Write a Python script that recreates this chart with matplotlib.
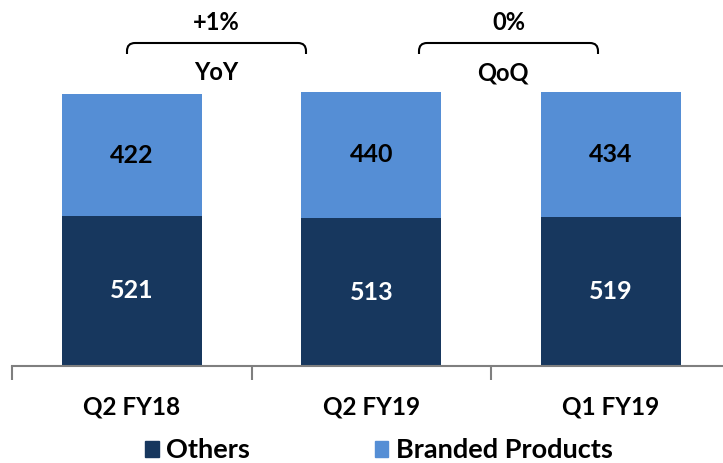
import matplotlib
matplotlib.use("Agg")
import matplotlib.pyplot as plt
from matplotlib.path import Path
from matplotlib.patches import PathPatch, Patch

plt.rcParams['font.family'] = 'Lato'
plt.rcParams['font.weight'] = 'bold'

categories = ["Q2 FY18", "Q2 FY19", "Q1 FY19"]
others = [521, 513, 519]
branded = [422, 440, 434]
series_names = ["Others", "Branded Products"]
comparisons = [("+1%", "YoY"), ("0%", "QoQ")]

c_others = "#17375E"
c_branded = "#558ED5"

W, H = 723, 463
fig = plt.figure(figsize=(W / 100, H / 100), dpi=100)
ax_bottom_px = 366
left_px, cat_px = 12, 239.5
ax = fig.add_axes([left_px / W, (H - ax_bottom_px) / H, 3 * cat_px / W, ax_bottom_px / H])
px_per_unit = 0.288
ax.set_xlim(-0.5, 2.5)
ax.set_ylim(0, ax_bottom_px / px_per_unit)

FS = 17
x = list(range(len(categories)))
bw = 0.585
b1 = ax.bar(x, others, bw, color=c_others, zorder=2)
b2 = ax.bar(x, branded, bw, bottom=others, color=c_branded, zorder=2)
for rects, vals, bots, tc in [(b1, others, [0] * 3, "white"), (b2, branded, others, "black")]:
    for r, v, b in zip(rects, vals, bots):
        ax.text(r.get_x() + r.get_width() / 2, b + v / 2, f"{v}", ha="center", va="center",
                fontsize=18, fontweight="bold", family="Lato", color=tc, zorder=3)

for s in ["top", "right", "left"]:
    ax.spines[s].set_visible(False)
ax.spines["bottom"].set_color("#7f7f7f")
ax.spines["bottom"].set_linewidth(1.5)
ax.set_yticks([])
ax.set_xticks([-0.5, 0.5, 1.5, 2.5])
ax.set_xticklabels([])
ax.tick_params(axis="x", which="major", direction="out", length=10, width=1.5, color="#7f7f7f")
ax.set_xticks(x, minor=True)
ax.set_xticklabels(categories, minor=True, fontsize=17.5, fontweight="bold", family="Lato")
ax.tick_params(axis="x", which="minor", length=0, pad=21)

# brackets
def px2x(px):
    return (px - left_px) / cat_px - 0.5

def px2y(py):
    return (ax_bottom_px - py) / px_per_unit

def bracket(x0p, x1p, ytop_p, ybot_p, r=8):
    x0, x1 = px2x(x0p), px2x(x1p)
    rx = r / cat_px
    ry = r / px_per_unit
    yt, yb = px2y(ytop_p), px2y(ybot_p)
    verts = [(x0, yb), (x0, yt - ry), (x0, yt), (x0 + rx, yt), (x1 - rx, yt),
             (x1, yt), (x1, yt - ry), (x1, yb)]
    codes = [Path.MOVETO, Path.LINETO, Path.CURVE3, Path.CURVE3, Path.LINETO,
             Path.CURVE3, Path.CURVE3, Path.LINETO]
    ax.add_patch(PathPatch(Path(verts, codes), fill=False, lw=1.5, color="black",
                           clip_on=False, capstyle="butt"))

brackets_px = [(127, 306), (419, 598)]
for (x0p, x1p), (pct, lab) in zip(brackets_px, comparisons):
    bracket(x0p, x1p, 43, 54)
    cx = px2x((x0p + x1p) / 2)
    ax.text(cx, px2y(23), pct, ha="center", va="center", fontsize=FS, fontweight="bold", family="Lato")
    ax.text(cx - (6 / cat_px if lab == "QoQ" else 0), px2y(73), lab, ha="center", va="center",
            fontsize=FS, fontweight="bold", family="Lato")

handles = [Patch(color=c_others), Patch(color=c_branded)]
fig.legend(handles, series_names, loc="center", bbox_to_anchor=(0.524, 0.027), ncol=2,
           frameon=False, handlelength=0.5, handleheight=0.5,
           handletextpad=0.28, columnspacing=4.6,
           prop={"family": "Lato", "weight": "bold", "size": 19.5})

fig.savefig("out.png", dpi=100)
